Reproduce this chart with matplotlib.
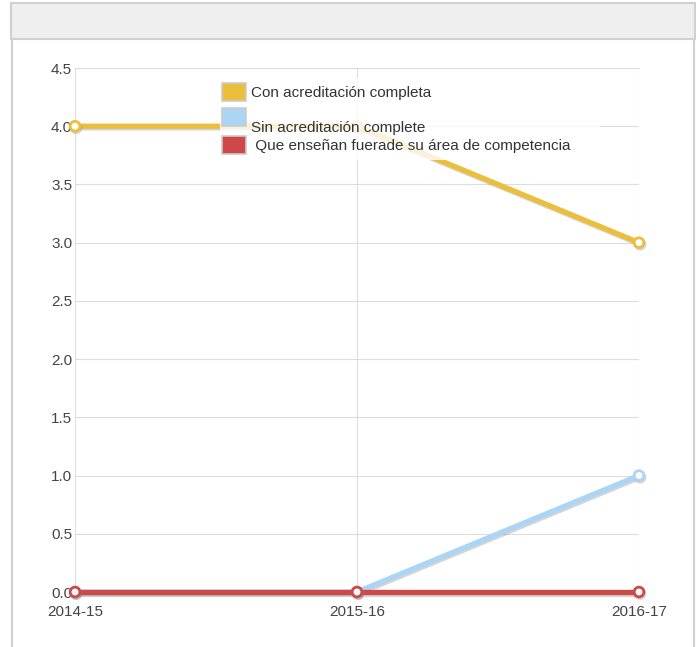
import matplotlib
matplotlib.use('Agg')
import matplotlib.pyplot as plt
import matplotlib.patheffects as pe
from matplotlib.patches import Rectangle
from matplotlib.lines import Line2D

# datos
periodos = ['2014-15', '2015-16', '2016-17']
con_acreditacion = [4, 4, 3]
sin_acreditacion = [0, 0, 1]
fuera_area = [0, 0, 0]
etiquetas = ['Con acreditación completa', 'Sin acreditación complete', ' Que enseñan fuerade su área de competencia']
colores = ['#EBBE3C', '#AAD5F5', '#CF4848']

plt.rcParams['font.family'] = ['Liberation Sans Narrow', 'Liberation Sans', 'DejaVu Sans']

W, H = 696, 647
fig = plt.figure(figsize=(W / 100, H / 100), dpi=100)

# marco del panel
def fx(x): return x / W
def fy(y): return 1 - y / H

fig.patches.append(Rectangle((fx(11), fy(39)), fx(684), 36 / H, transform=fig.transFigure,
                             facecolor='#EFEFEF', edgecolor='#D0D0D0', lw=1.5))
fig.lines.append(Line2D([fx(12), fx(12)], [0, fy(39)], transform=fig.transFigure, color='#D0D0D0', lw=1.5))
fig.lines.append(Line2D([fx(694), fx(694)], [0, fy(39)], transform=fig.transFigure, color='#D0D0D0', lw=1.5))

ax = fig.add_axes([fx(75), fy(592), (639 - 75) / W, (592 - 68) / H])
x = range(len(periodos))

sombra = [pe.SimpleLineShadow(offset=(0.8, -1.2), shadow_color='#888888', alpha=0.35), pe.Normal()]
for serie, color in zip([con_acreditacion, sin_acreditacion, fuera_area], colores):
    ax.plot(x, serie, color=color, lw=3.8, marker='o', markersize=7, markerfacecolor='white',
            markeredgecolor=color, markeredgewidth=2, solid_capstyle='butt', path_effects=sombra,
            clip_on=False, zorder=3)

ax.set_xlim(0, 2)
ax.set_ylim(0, 4.5)
ax.set_yticks([i * 0.5 for i in range(10)])
ax.set_yticklabels([f'{i * 0.5:.1f}' for i in range(10)])
ax.set_xticks(list(x))
ax.set_xticklabels(periodos)
ax.grid(True, color='#DDDDDD', lw=0.8)
for s in ax.spines.values():
    s.set_visible(False)
ax.spines['top'].set_visible(True)
ax.spines['top'].set_color('#DDDDDD')
ax.tick_params(length=0, labelsize=11, colors='#444444')
ax.tick_params(axis='y', pad=2)
ax.tick_params(axis='x', pad=9)

# leyenda
fig.patches.append(Rectangle((fx(220), fy(160)), fx(380), 82 / H, transform=fig.transFigure,
                             facecolor='white', edgecolor='none', alpha=0.8, zorder=5))
for i, (lab, color) in enumerate(zip(etiquetas, colores)):
    y0 = [92, 117, 145][i]
    fig.patches.append(Rectangle((fx(222), fy(y0 + 9)), fx(24), 18 / H, transform=fig.transFigure,
                                 facecolor=color, edgecolor='#CCCCCC', lw=1.2, zorder=6))
    ty = [93, 128, 146][i]
    fig.text(fx(251), fy(ty), lab, fontsize=11, color='#333333', va='center', zorder=7)

fig.savefig('out.png', dpi=100)
